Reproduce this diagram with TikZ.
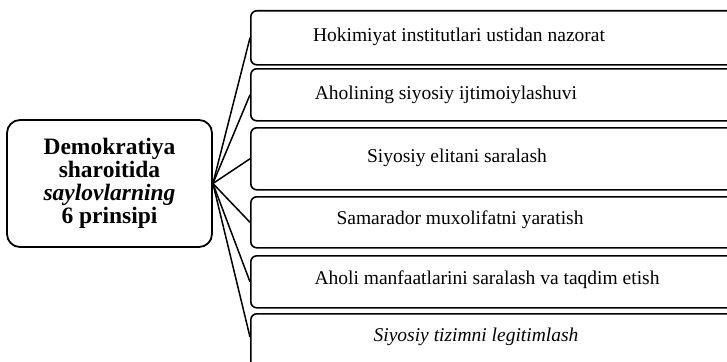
\documentclass[tikz,border=0pt]{standalone}
\usepackage{fontspec}
\setmainfont{Liberation Serif}
\begin{document}
\begin{tikzpicture}[x=1pt,y=-1pt,
  mainbox/.style={draw, line width=1.8pt, rounded corners=13pt, minimum width=205pt, minimum height=127pt, inner sep=0pt, align=center, font=\fontsize{23.5}{23}\selectfont\bfseries},
  itembox/.style={draw, line width=1.6pt, rounded corners=6pt, inner sep=0pt, anchor=north west},
  itemtext/.style={font=\fontsize{19.5}{22}\selectfont, inner sep=0pt},
  conn/.style={line width=1.5pt}]
\useasboundingbox (0,0) rectangle (727,361);
\clip (0,0) rectangle (727,361);
\fill[white] (0,0) rectangle (727,361);
\node[mainbox] (m) at (109.5,183.5) {Demokratiya\\sharoitida\\\textit{saylovlarning}\\6 prinsipi};
\node[itembox, minimum width=510pt, minimum height=54pt] (b1) at (250,10) {};
\node[itembox, minimum width=510pt, minimum height=52pt] (b2) at (250,68) {};
\node[itembox, minimum width=510pt, minimum height=62pt] (b3) at (250,127) {};
\node[itembox, minimum width=510pt, minimum height=51pt] (b4) at (250,196) {};
\node[itembox, minimum width=510pt, minimum height=52pt] (b5) at (250,255) {};
\node[itembox, minimum width=510pt, minimum height=60pt] (b6) at (250,313) {};
\node[itemtext] (t1) at (459,37) {Hokimiyat institutlari ustidan nazorat};
\node[itemtext] (t2) at (446,95) {Aholining siyosiy ijtimoiylashuvi};
\node[itemtext] (t3) at (457,158) {Siyosiy elitani saralash};
\node[itemtext] (t4) at (460,220) {Samarador muxolifatni yaratish};
\node[itemtext] (t5) at (487,280) {Aholi manfaatlarini saralash va taqdim etish};
\node[itemtext] (t6) at (476,337) {\itshape Siyosiy tizimni legitimlash};
\coordinate (o) at (m.east);
\foreach \b in {b1,b2,b3,b4,b5} \draw[conn] (o) -- (\b.west);
\draw[conn] (o) -- (250,337);
\end{tikzpicture}
\end{document}
